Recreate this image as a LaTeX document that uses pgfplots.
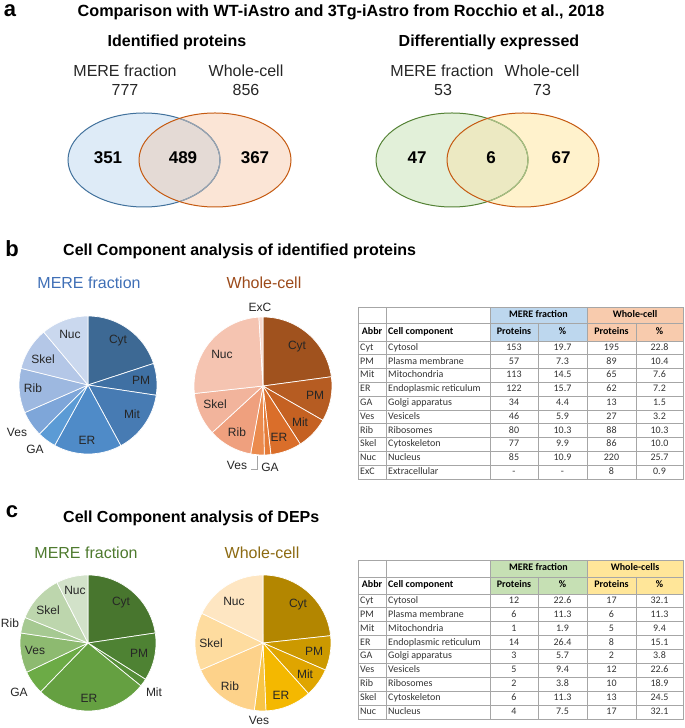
\documentclass[border=0pt]{standalone}
\usepackage{pgfplots}
\pgfplotsset{compat=1.18}
\usepackage{pgfplotstable}
\usepackage{fontspec}
\setmainfont{Liberation Sans}
\newfontfamily\calibri{Carlito}
\newcommand\fs[1]{\fontsize{#1}{#1}\selectfont}

% pie colours
\definecolor{bm0}{HTML}{3D6994}\definecolor{bm1}{HTML}{3F70A3}\definecolor{bm2}{HTML}{477BB3}
\definecolor{bm3}{HTML}{4F8BC8}\definecolor{bm4}{HTML}{5B9BD5}\definecolor{bm5}{HTML}{7EA6D9}
\definecolor{bm6}{HTML}{9DB8E0}\definecolor{bm7}{HTML}{B4C7E7}\definecolor{bm8}{HTML}{CAD8EE}
\definecolor{bw0}{HTML}{A0521E}\definecolor{bw1}{HTML}{B65C22}\definecolor{bw2}{HTML}{C56122}
\definecolor{bw3}{HTML}{DA6E2A}\definecolor{bw4}{HTML}{E57C38}\definecolor{bw5}{HTML}{EB8B4E}
\definecolor{bw6}{HTML}{EFA07E}\definecolor{bw7}{HTML}{F2B49C}\definecolor{bw8}{HTML}{F5C4B1}
\definecolor{bw9}{HTML}{F8D8CB}
\definecolor{cm0}{HTML}{48762E}\definecolor{cm1}{HTML}{4E8233}\definecolor{cm2}{HTML}{558D37}
\definecolor{cm3}{HTML}{65A041}\definecolor{cm4}{HTML}{6CAB46}\definecolor{cm5}{HTML}{8DBA70}
\definecolor{cm6}{HTML}{A6C992}\definecolor{cm7}{HTML}{BDD6AD}\definecolor{cm8}{HTML}{D2E2C9}
\definecolor{cw0}{HTML}{B38600}\definecolor{cw1}{HTML}{CC9900}\definecolor{cw2}{HTML}{DFA500}
\definecolor{cw3}{HTML}{F4B800}\definecolor{cw4}{HTML}{F8C547}\definecolor{cw5}{HTML}{FDD28A}
\definecolor{cw6}{HTML}{FEDC9F}\definecolor{cw7}{HTML}{FEE6C2}
% other colours
\definecolor{labc}{HTML}{262626}
\definecolor{gridc}{HTML}{A6A6A6}
\definecolor{tabtext}{HTML}{333333}
\definecolor{hblue}{HTML}{BDD7EE}
\definecolor{horange}{HTML}{F8CBAD}
\definecolor{hgreen}{HTML}{C6E0B4}
\definecolor{hyellow}{HTML}{FFE699}
\definecolor{vbluef}{HTML}{DEEBF7}
\definecolor{vorangef}{HTML}{FBE5D6}
\definecolor{vover}{HTML}{E4DAD5}
\definecolor{vblue}{HTML}{41719C}
\definecolor{vorange}{HTML}{C55A11}
\definecolor{vbgray}{HTML}{9AA3AE}
\definecolor{vgreenf}{HTML}{E2F0D9}
\definecolor{vyellowf}{HTML}{FFF2CC}
\definecolor{vover2}{HTML}{ECE9C2}
\definecolor{vgreen}{HTML}{548235}
\definecolor{vggray}{HTML}{A9BE85}
\definecolor{tbm}{HTML}{3F6FB6}
\definecolor{tbw}{HTML}{9C4A1A}
\definecolor{tcm}{HTML}{4E7A2E}
\definecolor{tcw}{HTML}{8C6A12}

% data
\pgfplotstableread{
v
153
57
113
122
34
46
80
77
85
}\pieBM
\pgfplotstableread{
v
195
89
65
62
13
27
88
86
220
8
}\pieBW
\pgfplotstableread{
v
12
6
1
14
3
5
2
6
4
}\pieCM
\pgfplotstableread{
v
17
6
5
8
2
12
10
13
}\pieCW

\pgfplotstableread[col sep=comma]{
abbr,name,mp,mpct,wp,wpct
Cyt,Cytosol,153,19.7,195,22.8
PM,Plasma membrane,57,7.3,89,10.4
Mit,Mitochondria,113,14.5,65,7.6
ER,Endoplasmic reticulum,122,15.7,62,7.2
GA,Golgi apparatus,34,4.4,13,1.5
Ves,Vesicels,46,5.9,27,3.2
Rib,Ribosomes,80,10.3,88,10.3
Skel,Cytoskeleton,77,9.9,86,10.0
Nuc,Nucleus,85,10.9,220,25.7
ExC,Extracellular,-,-,8,0.9
}\tabB
\pgfplotstableread[col sep=comma]{
abbr,name,mp,mpct,wp,wpct
Cyt,Cytosol,12,22.6,17,32.1
PM,Plasma membrane,6,11.3,6,11.3
Mit,Mitochondria,1,1.9,5,9.4
ER,Endoplasmic reticulum,14,26.4,8,15.1
GA,Golgi apparatus,3,5.7,2,3.8
Ves,Vesicels,5,9.4,12,22.6
Rib,Ribosomes,2,3.8,10,18.9
Skel,Cytoskeleton,6,11.3,13,24.5
Nuc,Nucleus,4,7.5,17,32.1
}\tabC

\newcommand\drawpie[5]{%
 \pgfplotsextra{%
  \gdef\pietotal{0}%
  \pgfplotstableforeachcolumnelement{v}\of#1\as\pieval{%
    \pgfmathsetmacro\pietmp{\pietotal+\pieval}\xdef\pietotal{\pietmp}}%
  \gdef\pieangle{90}%
  \pgfplotstableforeachcolumnelement{v}\of#1\as\pieval{%
    \pgfmathsetmacro\piefrac{\pieval/\pietotal}%
    \pgfmathsetmacro\pietmp{\pieangle-360*\piefrac}%
    \edef\piecol{#5\pgfplotstablerow}%
    \filldraw[fill=\piecol, draw=white, line width=0.7pt, line join=round]
      (#2,#3) -- ++(\pieangle:#4pt) arc[start angle=\pieangle, end angle=\pietmp, radius=#4pt] -- cycle;%
    \xdef\pieangle{\pietmp}}%
 }}

\tikzset{
  th/.style={font=\calibri\bfseries\fs{10}, text=black, inner sep=0pt, text height=6.8pt, text depth=2pt},
  td/.style={font=\calibri\fs{10}, text=tabtext, inner sep=0pt, text height=6.8pt, text depth=2pt},
  pl/.style={font=\fs{12}, text=labc, inner sep=0pt},
}

\newcommand\drawtable[9]{%
 \pgfmathsetmacro\ta{728-#2}%
 \pgfmathsetmacro\tb{728-#3}%
 \pgfmathsetmacro\tc{728-#4}%
 \pgfmathsetmacro\td{728-#4-#5*#6}%
 \pgfmathtruncatemacro\tn{#6-1}%
 \fill[#7] (490,\ta) rectangle (587,\tc);
 \fill[#8] (587,\ta) rectangle (683,\tc);
 \draw[gridc, line width=0.8pt] (358,\ta) rectangle (683,\td)
   (358,\tb) -- (683,\tb) (358,\tc) -- (683,\tc)
   (386,\ta) -- (386,\td) (490,\ta) -- (490,\td) (587,\ta) -- (587,\td)
   (538,\tb) -- (538,\td) (636,\tb) -- (636,\td);
 \foreach \i in {1,...,\tn}{\draw[gridc, line width=0.8pt] (358,{\tc-\i*#5}) -- (683,{\tc-\i*#5});}
 \pgfmathsetmacro\tf{(\ta+\tb)/2}%
 \node[th] at (538.5,\tf) {MERE fraction};
 \node[th] at (635,\tf) {#9};
 \pgfmathsetmacro\te{(\tb+\tc)/2}%
 \node[th] at (372,\te) {Abbr};
 \node[th, anchor=west] at (388,\te) {Cell component};
 \node[th] at (514,\te) {Proteins};
 \node[th] at (562.5,\te) {\%};
 \node[th] at (611.5,\te) {Proteins};
 \node[th] at (659.5,\te) {\%};
 \foreach \i in {0,...,\tn}{%
   \pgfmathsetmacro\ty{\tc-(\i+0.5)*#5}%
   \pgfplotstablegetelem{\i}{abbr}\of#1\node[td, anchor=west] at (360,\ty) {\pgfplotsretval};
   \pgfplotstablegetelem{\i}{name}\of#1\node[td, anchor=west] at (388,\ty) {\pgfplotsretval};
   \pgfplotstablegetelem{\i}{mp}\of#1\node[td] at (514,\ty) {\pgfplotsretval};
   \pgfplotstablegetelem{\i}{mpct}\of#1\node[td] at (562.5,\ty) {\pgfplotsretval};
   \pgfplotstablegetelem{\i}{wp}\of#1\node[td] at (611.5,\ty) {\pgfplotsretval};
   \pgfplotstablegetelem{\i}{wpct}\of#1\node[td] at (659.5,\ty) {\pgfplotsretval};
 }}

\newcommand\lab[3]{\node[pl] at (#1,{728-#2}) {#3};}

\begin{document}
\begin{tikzpicture}[x=1pt,y=1pt]
\useasboundingbox (0,0) rectangle (685,728);
\begin{axis}[x=1pt,y=1pt,xmin=0,xmax=685,ymin=0,ymax=728,hide axis,clip=false,
  enlargelimits=false,at={(0,0)},anchor=south west]
\drawpie{\pieBM}{88}{343}{69}{bm}
\drawpie{\pieBW}{263}{342}{69}{bw}
\drawpie{\pieCM}{88}{85}{68}{cm}
\drawpie{\pieCW}{263}{85}{68}{cw}
\end{axis}

% ---------- panel a ----------
\node[font=\bfseries\fs{22}, inner sep=0pt] at (10,717) {a};
\node[font=\bfseries\fs{16.2}, inner sep=0pt] at (341,716) {Comparison with WT-iAstro and 3Tg-iAstro from Rocchio et al., 2018};
\node[font=\bfseries\fs{16}, inner sep=0pt] at (177,686) {Identified proteins};
\node[font=\bfseries\fs{16}, inner sep=0pt] at (489,686) {Differentially expressed};
\node[font=\fs{16}, text=labc, inner sep=0pt] at (125,657) {MERE fraction};
\node[font=\fs{16}, text=labc, inner sep=0pt] at (125,638) {777};
\node[font=\fs{16}, text=labc, inner sep=0pt] at (246,657) {Whole-cell};
\node[font=\fs{16}, text=labc, inner sep=0pt] at (246,638) {856};
\node[font=\fs{16}, text=labc, inner sep=0pt] at (442,657) {MERE fraction};
\node[font=\fs{16}, text=labc, inner sep=0pt] at (443,638) {53};
\node[font=\fs{16}, text=labc, inner sep=0pt] at (542,657) {Whole-cell};
\node[font=\fs{16}, text=labc, inner sep=0pt] at (542,638) {73};

% left venn
\fill[vbluef] (144,568) ellipse [x radius=76, y radius=47];
\fill[vorangef] (215,568) ellipse [x radius=76, y radius=47];
\begin{scope}\clip (144,568) ellipse [x radius=76, y radius=47];
\fill[vover] (215,568) ellipse [x radius=76, y radius=47];\end{scope}
\draw[vblue, line width=1pt] (144,568) ellipse [x radius=76, y radius=47];
\begin{scope}\clip (215,568) ellipse [x radius=76, y radius=47];
\draw[vbgray, line width=1.1pt] (144,568) ellipse [x radius=76, y radius=47];\end{scope}
\draw[vorange, line width=1pt] (215,568) ellipse [x radius=76, y radius=47];
\node[font=\bfseries\fs{17}, inner sep=0pt] at (108,570) {351};
\node[font=\bfseries\fs{17}, inner sep=0pt] at (183,570) {489};
\node[font=\bfseries\fs{17}, inner sep=0pt] at (255,570) {367};

% right venn
\fill[vgreenf] (452,568) ellipse [x radius=76, y radius=47];
\fill[vyellowf] (523,568) ellipse [x radius=76, y radius=47];
\begin{scope}\clip (452,568) ellipse [x radius=76, y radius=47];
\fill[vover2] (523,568) ellipse [x radius=76, y radius=47];\end{scope}
\draw[vgreen, line width=1pt] (452,568) ellipse [x radius=76, y radius=47];
\begin{scope}\clip (523,568) ellipse [x radius=76, y radius=47];
\draw[vggray, line width=1.1pt] (452,568) ellipse [x radius=76, y radius=47];\end{scope}
\draw[vorange, line width=1pt] (523,568) ellipse [x radius=76, y radius=47];
\node[font=\bfseries\fs{17}, inner sep=0pt] at (417,570) {47};
\node[font=\bfseries\fs{17}, inner sep=0pt] at (491,570) {6};
\node[font=\bfseries\fs{17}, inner sep=0pt] at (561,570) {67};

% ---------- panel b ----------
\node[font=\bfseries\fs{22}, inner sep=0pt] at (12,479) {b};
\node[font=\bfseries\fs{16}, inner sep=0pt, anchor=west] at (63,477) {Cell Component analysis of identified proteins};
\node[font=\fs{16}, text=tbm, inner sep=0pt] at (89,445) {MERE fraction};
\node[font=\fs{16}, text=tbw, inner sep=0pt] at (264,445) {Whole-cell};
\lab{118}{341}{Cyt}\lab{141}{380}{PM}\lab{132}{414}{Mit}\lab{87}{440}{ER}
\lab{35}{449}{GA}\lab{17}{432}{Ves}\lab{33}{388}{Rib}\lab{43}{359}{Skel}\lab{70}{334}{Nuc}
\lab{297}{347}{Cyt}\lab{315}{395}{PM}\lab{300}{422}{Mit}\lab{279}{437}{ER}
\lab{270}{467}{GA}\lab{237}{465}{Ves}\lab{237}{432}{Rib}\lab{215}{404}{Skel}\lab{222}{354}{Nuc}\lab{260}{307}{ExC}
\draw[gridc, line width=0.7pt] (257,{728-456}) -- (257,{728-469}) -- (251,{728-469});
\drawtable{\tabB}{307}{323}{341}{13.8}{10}{hblue}{horange}{Whole-cell}

% ---------- panel c ----------
\node[font=\bfseries\fs{22}, inner sep=0pt] at (12,216) {c};
\node[font=\bfseries\fs{16}, inner sep=0pt, anchor=west] at (63,210) {Cell Component analysis of DEPs};
\node[font=\fs{16}, text=tcm, inner sep=0pt] at (86,175) {MERE fraction};
\node[font=\fs{16}, text=tcw, inner sep=0pt] at (262,175) {Whole-cell};
\lab{121}{603}{Cyt}\lab{139}{653}{PM}\lab{154}{692}{Mit}\lab{89}{698}{ER}
\lab{19}{692}{GA}\lab{35}{650}{Ves}\lab{10}{623}{Rib}\lab{48}{610}{Skel}\lab{75}{590}{Nuc}
\lab{298}{605}{Cyt}\lab{314}{651}{PM}\lab{305}{674}{Mit}\lab{281}{695}{ER}
\lab{259}{720}{Ves}\lab{230}{686}{Rib}\lab{211}{643}{Skel}\lab{234}{601}{Nuc}
\drawtable{\tabC}{560}{577}{594}{13.9}{9}{hgreen}{hyellow}{Whole-cells}
\end{tikzpicture}
\end{document}
